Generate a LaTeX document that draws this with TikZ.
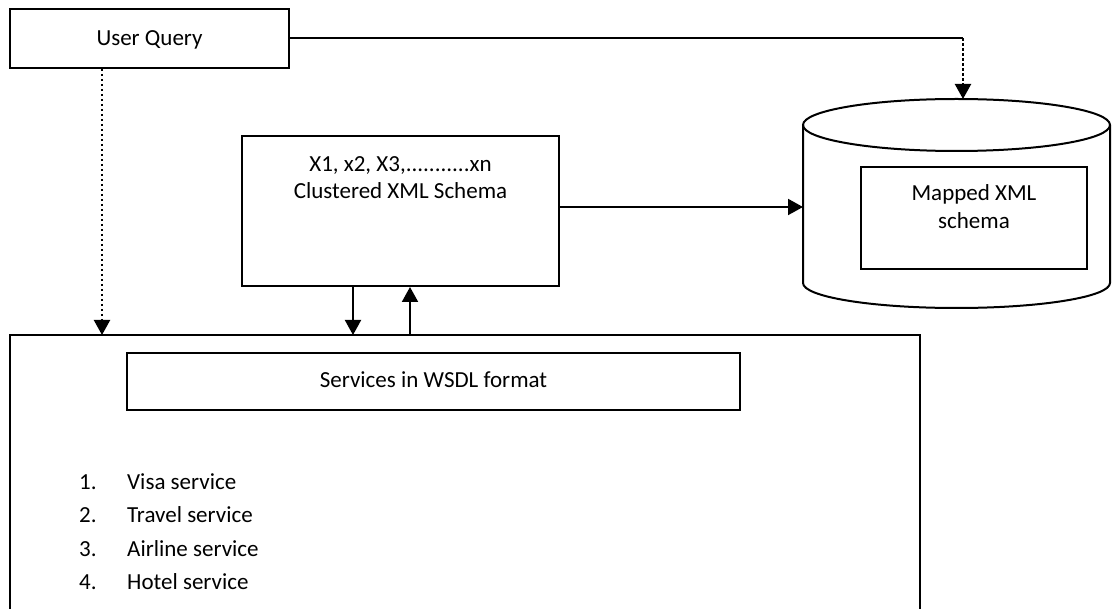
\documentclass[tikz,border=0pt]{standalone}
\usepackage{fontspec}
\setmainfont{Carlito}
\usetikzlibrary{arrows.meta}
\begin{document}
\begin{tikzpicture}[x=1pt,y=-1pt,
  boxstyle/.style={draw, line width=2pt, inner sep=0pt},
  txt/.style={font=\fontsize{23}{28}\selectfont, inner sep=0pt},
  plain/.style={line width=2pt},
  arr/.style={line width=2pt, -{Triangle[width=16pt,length=15pt]}},
  dotarr/.style={arr, line width=2.2pt, dash pattern=on 2.2pt off 2.8pt}]
\useasboundingbox (0,0) rectangle (1112,609);
% user query
\node[boxstyle, minimum width=279pt, minimum height=59pt] (uq) at (149.5,38.5) {};
\node[txt, anchor=base] (uqt) at (149.5,46) {User Query};
% clustered schema
\node[boxstyle, minimum width=317pt, minimum height=150pt] (cl) at (400.5,211) {};
\node[txt, anchor=base] (cl1) at (400.5,172) {X1, x2, X3,...........xn};
\node[txt, anchor=base] (cl2) at (400.5,199) {Clustered XML Schema};
% database cylinder
\coordinate (dbtop) at (963,99);
\coordinate (dbleft) at (803,207);
\draw[plain] (956.5,125) ellipse [x radius=153.5pt, y radius=26pt];
\draw[plain] (803,125) -- (803,283) arc[start angle=180, end angle=360, x radius=153.5pt, y radius=25pt] -- (1110,125);
\node[boxstyle, minimum width=226pt, minimum height=102pt] (mx) at (974,218) {};
\node[txt, anchor=base] (mx1) at (974,201) {Mapped XML};
\node[txt, anchor=base] (mx2) at (974,229) {schema};
% services area
\node[minimum width=910pt, minimum height=280pt, inner sep=0pt, anchor=north west] (area) at (10,335) {};
\draw[plain] (area.south west) -- (area.north west) -- (area.north east) -- (area.south east);
\node[boxstyle, minimum width=613pt, minimum height=57pt] (ws) at (433.5,381.5) {};
\node[txt, anchor=base] (wst) at (433.5,388) {Services in WSDL format};
% list
\node[txt, anchor=base west] (n1) at (79,490) {1.};
\node[txt, anchor=base west] (s1) at (127,490) {Visa service};
\node[txt, anchor=base west] (n2) at (79,523) {2.};
\node[txt, anchor=base west] (s2) at (127,523) {Travel service};
\node[txt, anchor=base west] (n3) at (79,556) {3.};
\node[txt, anchor=base west] (s3) at (127,556) {Airline service};
\node[txt, anchor=base west] (n4) at (79,590) {4.};
\node[txt, anchor=base west] (s4) at (127,590) {Hotel service};
% connectors
\draw[plain] (uq.east) -- (uq.east -| dbtop);
\draw[dotarr] (uq.east -| dbtop) -- (dbtop);
\draw[dotarr] ([xshift=-47.5pt]uq.south) -- ([xshift=-47.5pt]uq.south |- area.north);
\draw[arr] (cl.east |- dbleft) -- (dbleft);
\draw[arr] ([xshift=-47.5pt]cl.south) -- ([xshift=-47.5pt]cl.south |- area.north);
\draw[arr] ([xshift=9.5pt]cl.south |- area.north) -- ([xshift=9.5pt]cl.south);
\end{tikzpicture}
\end{document}
